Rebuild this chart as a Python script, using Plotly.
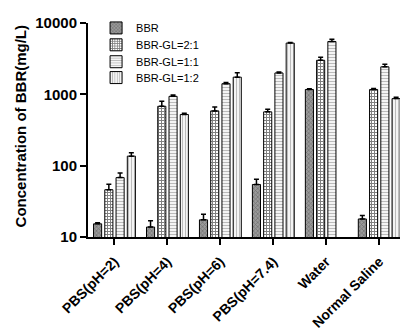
import plotly.graph_objects as go

categories = ["PBS(pH=2)", "PBS(pH=4)", "PBS(pH=6)", "PBS(pH=7.4)", "Water", "Normal Saline"]
series_names = ["BBR", "BBR-GL=2:1", "BBR-GL=1:1", "BBR-GL=1:2"]
y_title = "Concentration of BBR(mg/L)"

bbr = [15.3, 13.8, 17.4, 54.5, 1170, 17.9]
bbr_err = [0.6, 3.1, 3.5, 10, 30, 2.1]

gl21 = [46, 680, 586, 568, 3000, 1170]
gl21_err = [9, 120, 80, 50, 300, 40]

gl11 = [68, 938, 1410, 1995, 5500, 2430]
gl11_err = [11, 40, 60, 60, 400, 210]

gl12 = [136, 522, 1740, 5230, None, 871]
gl12_err = [16, 20, 260, 100, None, 40]

values = [bbr, gl21, gl11, gl12]
errors = [bbr_err, gl21_err, gl11_err, gl12_err]

patterns = [
    dict(shape="x", fgcolor="#444444", bgcolor="#9a9a9a", size=3, solidity=0.4),
    dict(shape="+", fgcolor="#000000", bgcolor="#ffffff", size=3, solidity=0.55),
    dict(shape="-", fgcolor="#777777", bgcolor="#ffffff", size=3, solidity=0.45),
    dict(shape="|", fgcolor="#777777", bgcolor="#ffffff", size=3, solidity=0.45),
]
legend_ids = ["legend", "legend2", "legend3", "legend4"]
legend_y = [0.977, 0.898, 0.819, 0.745]

fig = go.Figure()
for name, v, e, p, lid in zip(series_names, values, errors, patterns, legend_ids):
    fig.add_trace(go.Bar(
        name=name, x=categories, y=v, legend=lid,
        marker=dict(pattern=p, color=p["bgcolor"], line=dict(color="#000000", width=1)),
        error_y=dict(type="data", array=e, arrayminus=[0] * len(e), symmetric=False,
                     color="#000000", thickness=1.5, width=2.5),
    ))

legend_common = dict(x=0.025, xanchor="left", yanchor="middle",
                     font=dict(size=11, color="#000000"), bgcolor="rgba(0,0,0,0)",
                     itemwidth=30)
layout_legends = {lid: dict(y=ly, **legend_common) for lid, ly in zip(legend_ids, legend_y)}

fig.update_layout(
    width=408, height=331,
    margin=dict(l=80, r=5, t=13, b=102),
    paper_bgcolor="white", plot_bgcolor="white",
    barmode="group", bargap=0.15, bargroupgap=0.28,
    font=dict(family="Arial, Liberation Sans, sans-serif", color="#000000"),
    showlegend=True,
    **layout_legends,
)
fig.add_annotation(
    text=y_title, xref="paper", yref="paper", x=-0.241, y=0.515,
    xanchor="left", yanchor="middle", textangle=-90, showarrow=False,
    font=dict(size=15, weight="bold", color="#000000"),
)
fig.update_xaxes(
    type="category", range=[-0.5, 5.6],
    showline=True, linecolor="#000000", linewidth=2,
    ticks="outside", ticklen=6, tickwidth=2, tickcolor="#000000",
    tickangle=-45, tickfont=dict(size=14, weight="bold"),
    ticklabelstandoff=3,
    showgrid=False, zeroline=False,
)
fig.update_yaxes(
    type="log", range=[1, 4],
    tickvals=[10, 100, 1000, 10000], ticktext=["10", "100", "1000", "10000"],
    showline=True, linecolor="#000000", linewidth=2,
    ticks="outside", ticklen=6, tickwidth=2, tickcolor="#000000",
    tickfont=dict(size=15, weight="bold"),
    showgrid=False, zeroline=False,
)

fig.write_html("out.html")
